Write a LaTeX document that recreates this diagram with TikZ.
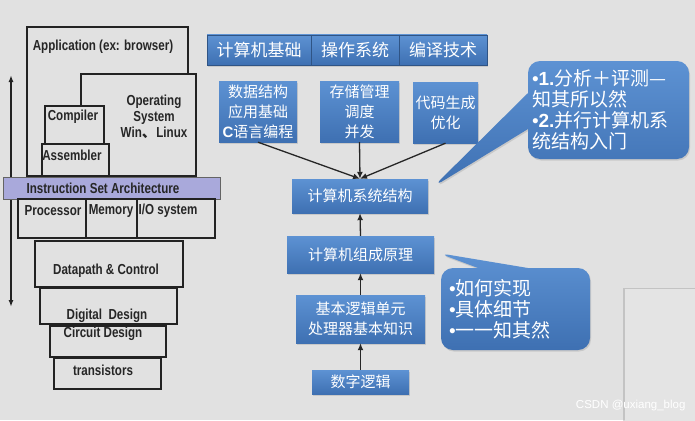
\documentclass[tikz,border=0pt]{standalone}
\usepackage{fontspec}
\newfontfamily\narrowsans[FakeStretch=0.8]{Liberation Sans}
\newfontfamily\latinsans{Liberation Sans}
\newfontfamily\cjk{Noto Sans CJK SC}
\usetikzlibrary{arrows.meta,shapes.callouts,shadows}
\definecolor{bgcol}{HTML}{E1E1E1}
\definecolor{panelcol}{HTML}{E4E4E4}
\definecolor{boxtop}{HTML}{5D92D3}
\definecolor{boxbot}{HTML}{3E70B2}
\definecolor{isacol}{HTML}{A9A9DB}
\definecolor{linecol}{HTML}{222222}
\newcommand{\blt}{{\latinsans •}}

\begin{document}
\begin{tikzpicture}[x=1pt,y=-1pt,
    layer/.style={draw=linecol, line width=1.5pt, fill=bgcol},
    layertext/.style={font=\narrowsans\bfseries\fontsize{14.5}{16}\selectfont, text=black!85, inner sep=0pt, align=center},
    bluebox/.style={draw=none, top color=boxtop, bottom color=boxbot, text=white, align=center, inner sep=0pt,
      drop shadow={opacity=0.25, shadow xshift=1pt, shadow yshift=-1.5pt}},
    topfont/.style={font=\cjk\fontsize{17}{20}\selectfont},
    midfont/.style={font=\cjk\fontsize{15}{20}\selectfont},
    callbox/.style={rectangle callout, rounded corners=12pt, top color=boxtop, bottom color=boxbot, text=white,
      align=left, inner ysep=0pt, font=\cjk\fontsize{19}{21}\selectfont,
      drop shadow={opacity=0.25, shadow xshift=1pt, shadow yshift=-1.5pt}},
    arr/.style={-{Latex[length=7pt,width=6pt]}, line width=1.3pt, black!85}]

  % Background
  \fill[bgcol] (0,0) rectangle (695,420);
  \useasboundingbox (0,0) rectangle (695,420);

  % Panel at bottom right
  \fill[panelcol, drop shadow={opacity=0.3, shadow xshift=-2pt, shadow yshift=1pt}] (625,289) rectangle (700,425);
  \node[font=\latinsans\fontsize{11.5}{12}\selectfont, text=white, anchor=east] (mark) at (689,406) {CSDN @uxiang\_blog};

  % Left: software / hardware layers
  \coordinate (up) at (11,75);
  \coordinate (down) at (11,307);
  \draw[{Latex[length=7pt,width=5pt]}-{Latex[length=7pt,width=5pt]}, line width=1.4pt, linecol] (up) -- (down);

  \draw[layer] (27,27) rectangle (188,176);
  \draw[layer] (81,74) rectangle (196,176);
  \draw[layer] (45,106) rectangle (104,144);
  \draw[layer] (42,144) rectangle (109,176);
  \node[layertext] (app) at (103,47) {Application (ex: browser)};
  \node[layertext] (opsys) at (154,117) {Operating\\System\\Win{\cjk 、}Linux};
  \node[layertext] (compiler) at (73,117) {Compiler};
  \node[layertext] (assembler) at (72,155) {Assembler};

  % ISA
  \draw[draw=linecol!70, line width=1pt, fill=isacol] (3,177) rectangle (220,199);
  \node[layertext] (isa) at (103,188) {Instruction Set Architecture};

  \draw[layer] (18,199) rectangle (215,238);
  \draw[layer] (86,199) -- (86,238);
  \draw[layer] (137,199) -- (137,238);
  \node[layertext] (proc) at (53,211) {Processor};
  \node[layertext] (mem) at (111,211) {Memory};
  \node[layertext] (io) at (168,211) {I/O system};

  \draw[layer] (35,241) rectangle (183,287);
  \node[layertext] (datapath) at (106,271) {Datapath \& Control};
  \draw[layer] (40,288) rectangle (177,324);
  \draw[layer] (50,326) rectangle (166,357);
  \node[layertext] (digital) at (107,316) {Digital\ \ Design};
  \node[layertext] (circuit) at (103,334) {Circuit Design};
  \draw[layer] (54,358) rectangle (161,389);
  \node[layertext] (trans) at (103,370) {transistors};

  % Right: courses
  \node[bluebox, topfont, draw=boxbot!75!black, line width=0.6pt, minimum width=104, minimum height=30] (jichu) at (259,50) {计算机基础};
  \node[bluebox, topfont, draw=boxbot!75!black, line width=0.6pt, minimum width=88, minimum height=30] (caozuo) at (355,50) {操作系统};
  \node[bluebox, topfont, draw=boxbot!75!black, line width=0.6pt, minimum width=88, minimum height=30] (bianyi) at (443,50) {编译技术};

  \node[bluebox, midfont, minimum width=78, minimum height=61] (shuju) at (258,111.5)
    {数据结构\\应用基础\\{\latinsans\bfseries C}语言编程};
  \node[bluebox, midfont, minimum width=79, minimum height=61] (cunchu) at (359.5,111.5) {存储管理\\调度\\并发};
  \node[bluebox, midfont, minimum width=65, minimum height=61] (daima) at (445.5,112.5) {代码生成\\优化};

  \node[bluebox, midfont, minimum width=136, minimum height=34] (xitong) at (360,196) {计算机系统结构};
  \node[bluebox, midfont, minimum width=147, minimum height=37] (zucheng) at (360.5,254.5) {计算机组成原理};
  \node[bluebox, midfont, minimum width=129, minimum height=48] (jiben) at (360.5,319) {基本逻辑单元\\处理器基本知识};
  \node[bluebox, midfont, minimum width=97, minimum height=24] (shuzi) at (360.5,382) {数字逻辑};

  \draw[arr] (shuju.south) -- (xitong.north);
  \draw[arr] (cunchu.south) -- (xitong.north);
  \draw[arr] (daima.south) -- (xitong.north);
  \draw[arr] (zucheng.north) -- (xitong.south);
  \draw[arr] (jiben.north) -- (zucheng.south);
  \draw[arr] (shuzi.north) -- (jiben.south);

  % Callouts
  \coordinate (tip1) at (433,187);
  \coordinate (tip2) at (438,253);
  \node[callbox, inner xsep=4pt, text width=153, minimum height=98, callout absolute pointer={(tip1)},
    callout pointer width=36] (fenxi) at (608.5,110)
    {\blt{\latinsans\bfseries 1.}分析＋评测—\\知其所以然\\\blt{\latinsans\bfseries 2.}并行计算机系\\统结构入门};
  \node[callbox, inner xsep=8pt, text width=133, minimum height=82, callout absolute pointer={(tip2)},
    callout pointer width=50] (shixian) at (515.5,309)
    {\blt 如何实现\\\blt 具体细节\\\blt 一一知其然};
\end{tikzpicture}
\end{document}
